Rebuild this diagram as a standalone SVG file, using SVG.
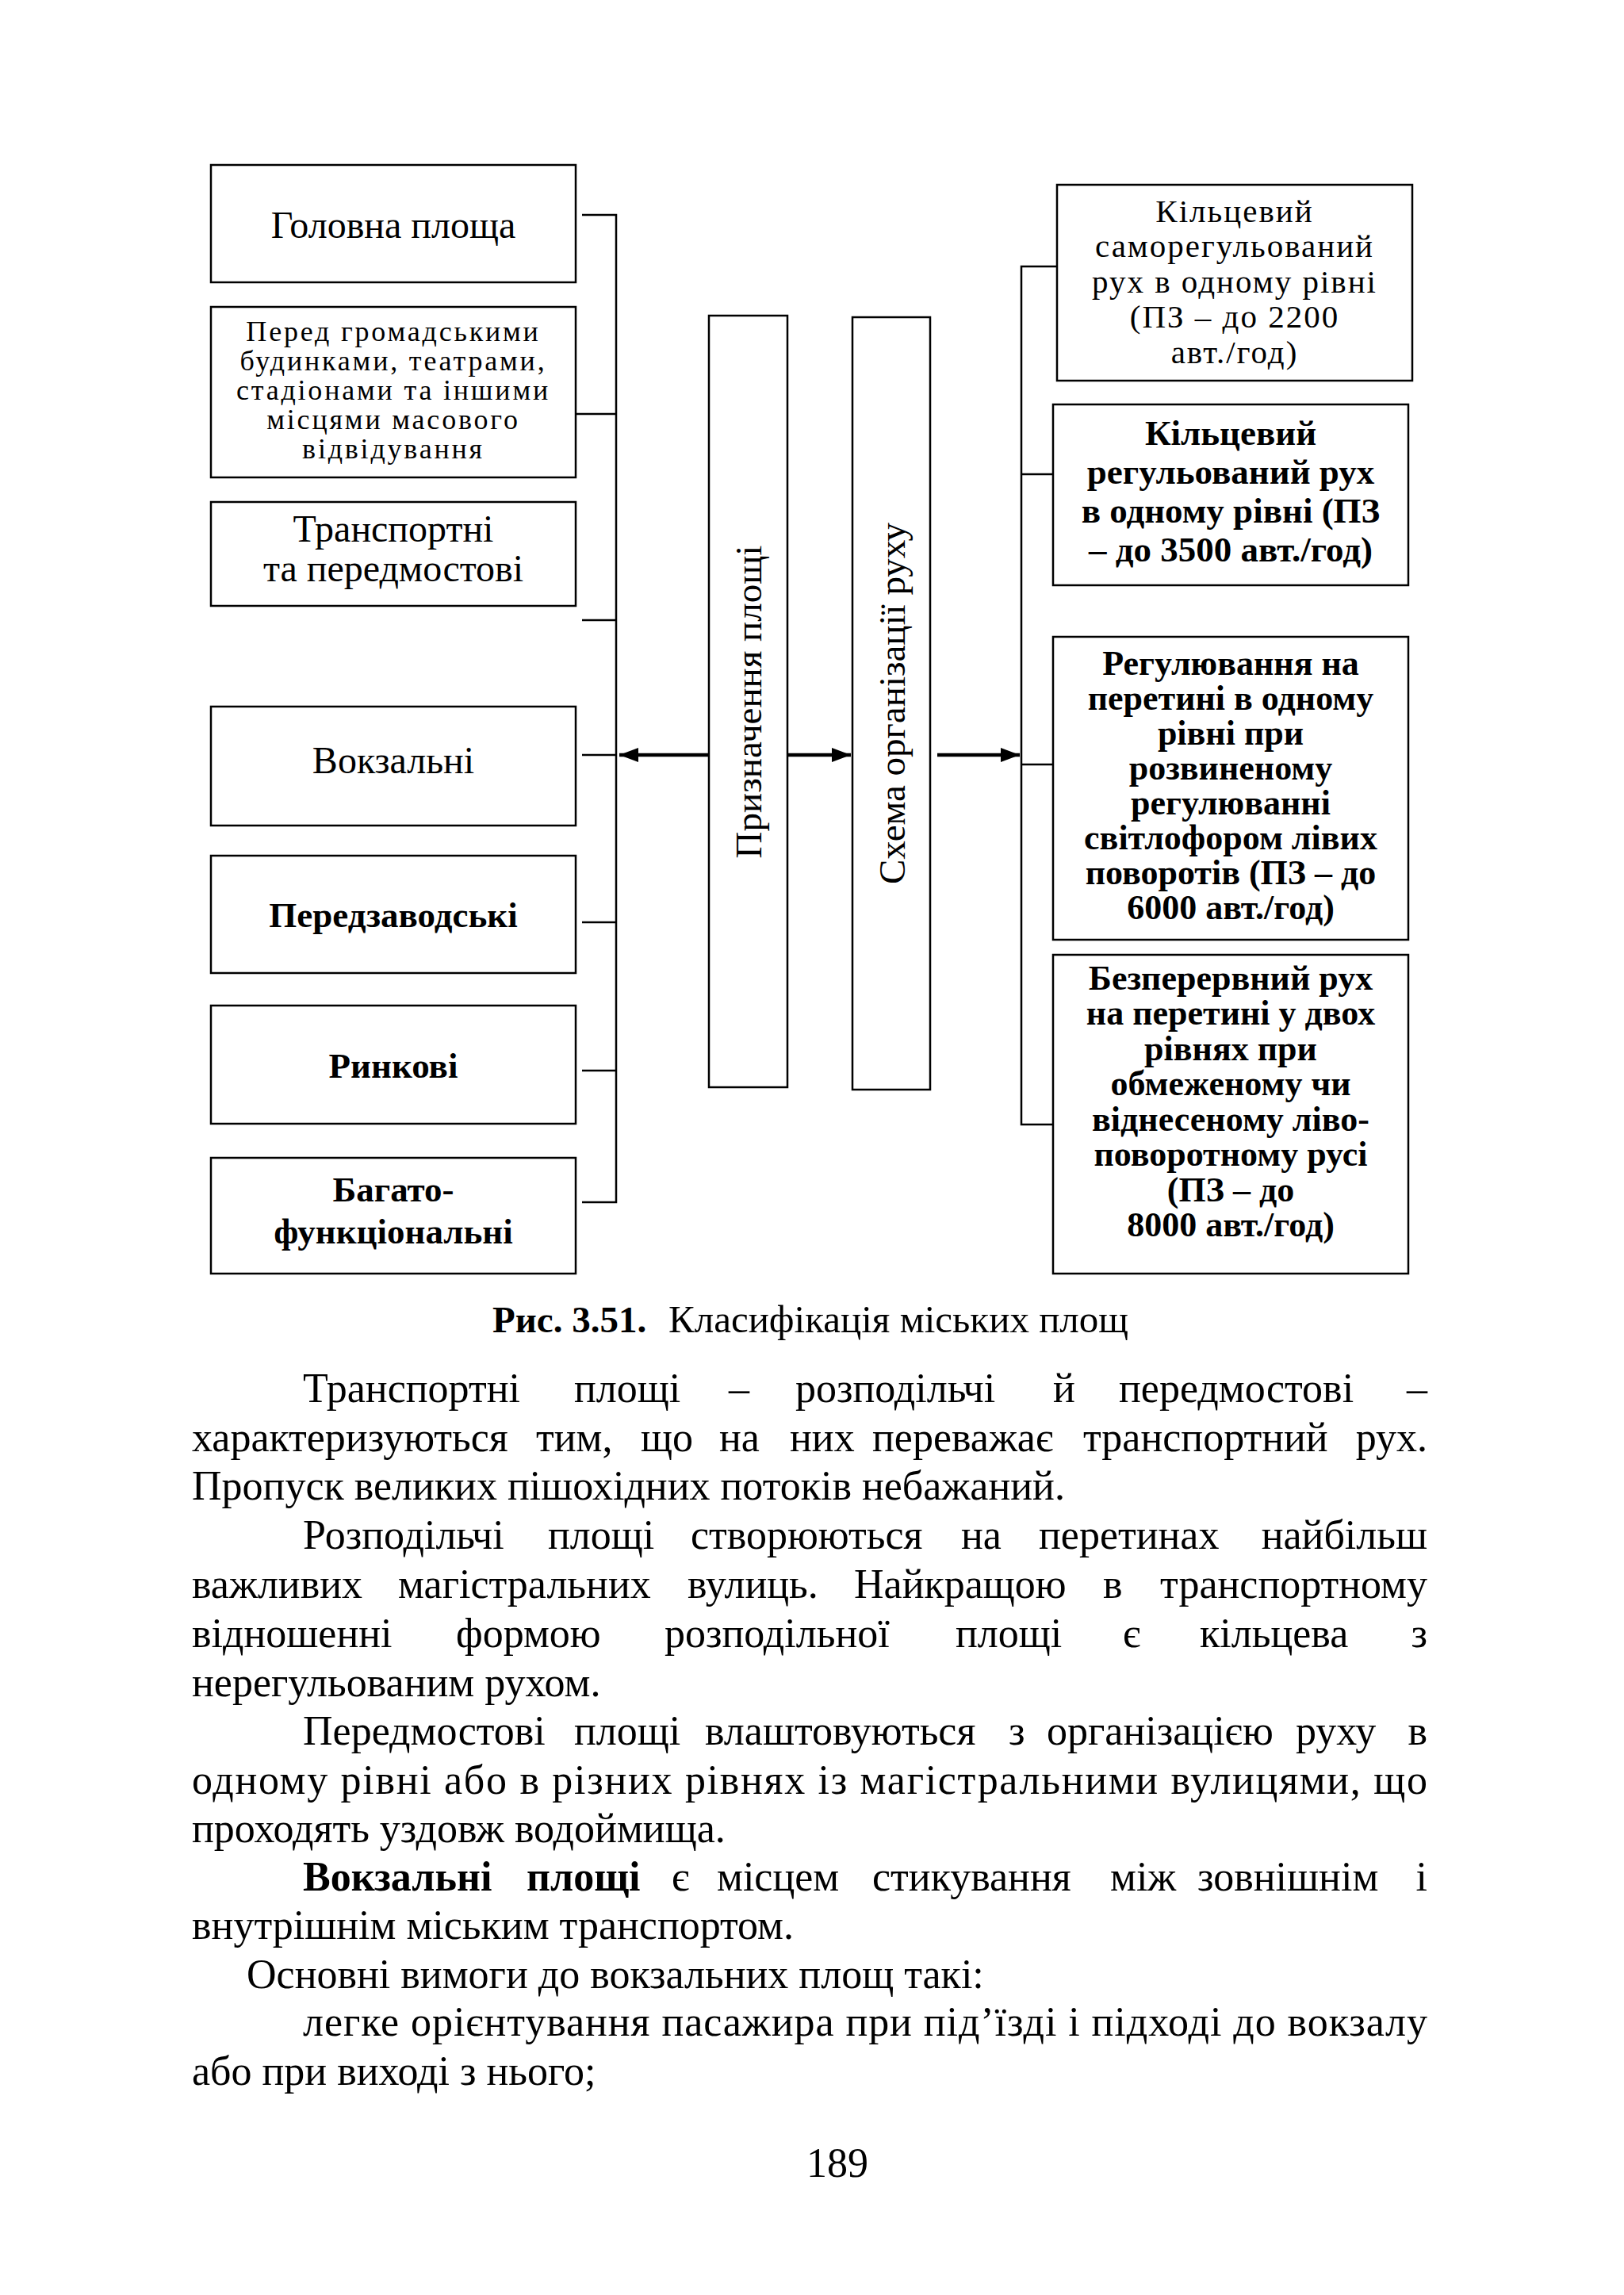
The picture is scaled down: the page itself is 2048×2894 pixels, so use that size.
<svg xmlns="http://www.w3.org/2000/svg" width="2048" height="2894" viewBox="0 0 2048 2894">
<style>
.box{fill:#fff;stroke:#000;stroke-width:2.5}
.ln{fill:none;stroke:#000;stroke-width:2.5}
.ar{fill:none;stroke:#000;stroke-width:4.5}
text{font-family:"Liberation Serif","Times New Roman",serif;fill:#000}
.t48{font-size:48px;text-anchor:middle}
.t47{font-size:47px;text-anchor:middle}
.b45{font-size:45px;font-weight:bold;text-anchor:middle}
.b44{font-size:44px;font-weight:bold;text-anchor:middle}
.thin{font-size:36px;letter-spacing:2.8px;text-anchor:middle}
.thin41{font-size:41px;letter-spacing:2px;text-anchor:middle}
.body{font-size:52px}
.bb{font-size:52px;font-weight:bold}
.end{text-anchor:end}
</style>
<defs>
<marker id="ah" markerUnits="userSpaceOnUse" markerWidth="26" markerHeight="18" refX="24" refY="9" orient="auto">
<path d="M0,0 L24,9 L0,18 z" fill="#000"/>
</marker>
</defs>

<g id="connectors">
<polyline class="ln" points="734,271 777,271 777,1516 734,1516"/>
<line class="ln" x1="726" y1="522" x2="777" y2="522"/>
<line class="ln" x1="734" y1="782" x2="777" y2="782"/>
<line class="ln" x1="734" y1="952" x2="777" y2="952"/>
<line class="ln" x1="734" y1="1163" x2="777" y2="1163"/>
<line class="ln" x1="734" y1="1350" x2="777" y2="1350"/>
<polyline class="ln" points="1333,336 1288,336 1288,1418 1328,1418"/>
<line class="ln" x1="1288" y1="598" x2="1328" y2="598"/>
<line class="ln" x1="1288" y1="964" x2="1328" y2="964"/>
<line class="ar" x1="894" y1="952" x2="781" y2="952" marker-end="url(#ah)"/>
<line class="ar" x1="993" y1="952" x2="1073" y2="952" marker-end="url(#ah)"/>
<line class="ar" x1="1182" y1="952" x2="1286" y2="952" marker-end="url(#ah)"/>
</g>

<g id="node-golovna">
<rect class="box" x="266" y="208" width="460" height="148"/>
<text class="t48" x="496" y="300">Головна площа</text>
</g>
<g id="node-hromadski">
<rect class="box" x="266" y="387" width="460" height="215"/>
<text class="thin" x="496" y="430">Перед громадськими</text>
<text class="thin" x="496" y="467">будинками, театрами,</text>
<text class="thin" x="496" y="504">стадіонами та іншими</text>
<text class="thin" x="496" y="541">місцями масового</text>
<text class="thin" x="496" y="578">відвідування</text>
</g>
<g id="node-transport">
<rect class="box" x="266" y="633" width="460" height="131"/>
<text class="t48" x="496" y="683">Транспортні</text>
<text class="t48" x="496" y="733">та передмостові</text>
</g>
<g id="node-vokzal">
<rect class="box" x="266" y="891" width="460" height="150"/>
<text class="t48" x="496" y="975">Вокзальні</text>
</g>
<g id="node-peredzavod">
<rect class="box" x="266" y="1079" width="460" height="148"/>
<text class="b45" x="496" y="1169">Передзаводські</text>
</g>
<g id="node-rynkovi">
<rect class="box" x="266" y="1268" width="460" height="149"/>
<text class="b45" x="496" y="1359">Ринкові</text>
</g>
<g id="node-bahato">
<rect class="box" x="266" y="1460" width="460" height="146"/>
<text class="b45" x="496" y="1515">Багато-</text>
<text class="b45" x="496" y="1568">функціональні</text>
</g>

<g id="node-pryznachennia">
<rect class="box" x="894" y="398" width="99" height="973"/>
<text class="t47" transform="translate(960,885) rotate(-90)">Призначення площі</text>
</g>
<g id="node-skhema">
<rect class="box" x="1075" y="400" width="98" height="974"/>
<text class="t47" transform="translate(1141,887) rotate(-90)">Схема організації руху</text>
</g>

<g id="node-kiltsevyi-samoreg">
<rect class="box" x="1333" y="233" width="448" height="247"/>
<text class="thin41" x="1557" y="280">Кільцевий</text>
<text class="thin41" x="1557" y="324">саморегульований</text>
<text class="thin41" x="1557" y="369">рух в одному рівні</text>
<text class="thin41" x="1557" y="413">(ПЗ – до 2200</text>
<text class="thin41" x="1557" y="458">авт./год)</text>
</g>
<g id="node-kiltsevyi-reg">
<rect class="box" x="1328" y="510" width="448" height="228"/>
<text class="b45" x="1552" y="561">Кільцевий</text>
<text class="b45" x="1552" y="610">регульований рух</text>
<text class="b45" x="1552" y="659">в одному рівні (ПЗ</text>
<text class="b45" x="1552" y="708">– до 3500 авт./год)</text>
</g>
<g id="node-perety-odyn">
<rect class="box" x="1328" y="803" width="448" height="382"/>
<text class="b44" x="1552" y="851">Регулювання на</text>
<text class="b44" x="1552" y="895">перетині в одному</text>
<text class="b44" x="1552" y="939">рівні при</text>
<text class="b44" x="1552" y="983">розвиненому</text>
<text class="b44" x="1552" y="1027">регулюванні</text>
<text class="b44" x="1552" y="1071">світлофором лівих</text>
<text class="b44" x="1552" y="1115">поворотів (ПЗ – до</text>
<text class="b44" x="1552" y="1159">6000 авт./год)</text>
</g>
<g id="node-bezperervnyi">
<rect class="box" x="1328" y="1204" width="448" height="402"/>
<text class="b44" x="1552" y="1248">Безперервний рух</text>
<text class="b44" x="1552" y="1292">на перетині у двох</text>
<text class="b44" x="1552" y="1337">рівнях при</text>
<text class="b44" x="1552" y="1381">обмеженому чи</text>
<text class="b44" x="1552" y="1426">віднесеному ліво-</text>
<text class="b44" x="1552" y="1470">поворотному русі</text>
<text class="b44" x="1552" y="1515">(ПЗ – до</text>
<text class="b44" x="1552" y="1559">8000 авт./год)</text>
</g>

<g id="caption">
<text class="bb" x="621" y="1680" style="font-size:47px">Рис. 3.51.</text>
<text class="body" x="843" y="1680" style="font-size:49px">Класифікація міських площ</text>
</g>

<g id="body-text" class="body">
<text y="1768"><tspan x="382">Транспортні</tspan><tspan x="724">площі</tspan><tspan x="919">–</tspan><tspan x="1003">розподільчі</tspan><tspan x="1328">й</tspan><tspan x="1411">передмостові</tspan></text>
<text class="end" x="1800" y="1768">–</text>
<text y="1830"><tspan x="242">характеризуються</tspan><tspan x="676">тим,</tspan><tspan x="808">що</tspan><tspan x="907">на</tspan><tspan x="996">них</tspan><tspan x="1100">переважає</tspan><tspan x="1366">транспортний</tspan></text>
<text class="end" x="1800" y="1830">рух.</text>
<text x="242" y="1891">Пропуск великих пішохідних потоків небажаний.</text>
<text y="1953"><tspan x="382">Розподільчі</tspan><tspan x="691">площі</tspan><tspan x="871">створюються</tspan><tspan x="1212">на</tspan><tspan x="1310">перетинах</tspan></text>
<text class="end" x="1800" y="1953">найбільш</text>
<text y="2015"><tspan x="242">важливих</tspan><tspan x="502">магістральних</tspan><tspan x="867">вулиць.</tspan><tspan x="1077">Найкращою</tspan><tspan x="1391">в</tspan></text>
<text class="end" x="1800" y="2015">транспортному</text>
<text y="2077"><tspan x="242">відношенні</tspan><tspan x="575">формою</tspan><tspan x="838">розподільної</tspan><tspan x="1205">площі</tspan><tspan x="1416">є</tspan><tspan x="1513">кільцева</tspan></text>
<text class="end" x="1800" y="2077">з</text>
<text x="242" y="2139">нерегульованим рухом.</text>
<text y="2200"><tspan x="382">Передмостові</tspan><tspan x="724">площі</tspan><tspan x="889">влаштовуються</tspan><tspan x="1272">з</tspan><tspan x="1320">організацією</tspan><tspan x="1634">руху</tspan></text>
<text class="end" x="1800" y="2200">в</text>
<text x="242" y="2262" textLength="1558" lengthAdjust="spacing">одному рівні або в різних рівнях із магістральними вулицями, що</text>
<text x="242" y="2323">проходять уздовж водоймища.</text>
<text y="2384"><tspan x="382" font-weight="bold">Вокзальні</tspan><tspan x="664" font-weight="bold">площі</tspan><tspan x="847">є</tspan><tspan x="904">місцем</tspan><tspan x="1100">стикування</tspan><tspan x="1400">між</tspan><tspan x="1510">зовнішнім</tspan></text>
<text class="end" x="1800" y="2384">і</text>
<text x="242" y="2445">внутрішнім міським транспортом.</text>
<text x="311" y="2507">Основні вимоги до вокзальних площ такі:</text>
<text x="382" y="2567" textLength="1418" lengthAdjust="spacing">легке орієнтування пасажира при під’їзді і підході до вокзалу</text>
<text x="242" y="2629">або при виході з нього;</text>
<text x="1056" y="2745" style="text-anchor:middle">189</text>
</g>
</svg>
